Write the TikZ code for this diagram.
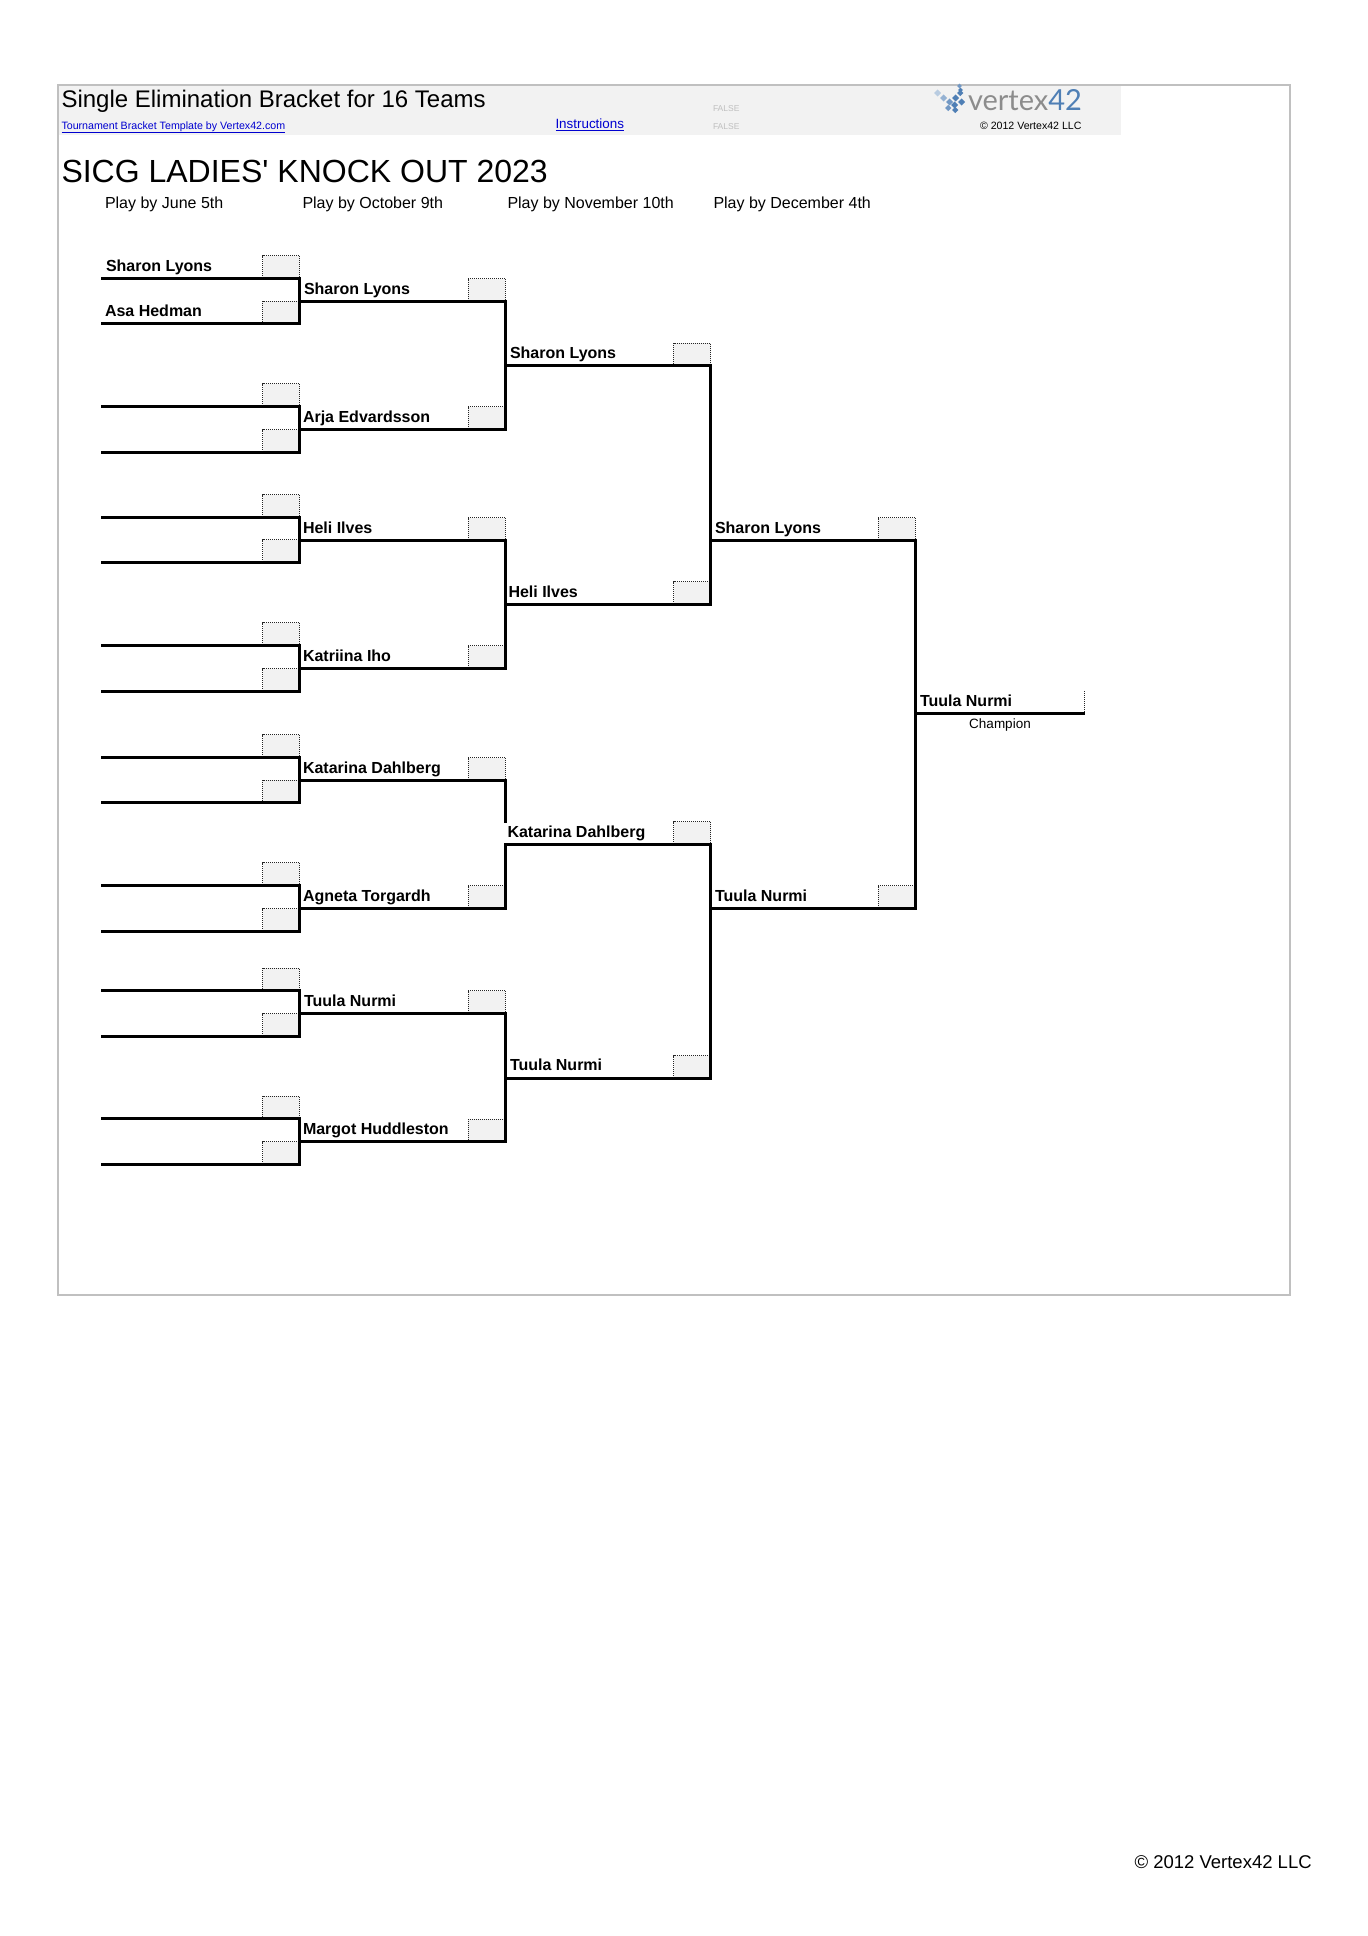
\documentclass[tikz,border=0pt]{standalone}
\usepackage{fontspec}
\setmainfont{Liberation Sans}
\newfontfamily\plainfont{Liberation Sans}
\newfontfamily\logofont{Lato}
\usetikzlibrary{calc}
\definecolor{framegray}{HTML}{C0C0C0}
\definecolor{headgray}{HTML}{F2F2F2}
\definecolor{linkblue}{HTML}{0000D0}
\definecolor{logoblue}{HTML}{4F7FB5}
\tikzset{
  txt/.style={anchor=base west, inner sep=0pt, outer sep=0pt},
  teamname/.style={txt, font=\fontsize{16}{18}\selectfont\bfseries},
  playby/.style={txt, font=\fontsize{16}{18}\selectfont},
  scorebox/.style={draw=black!85, densely dotted, line width=1pt, fill=headgray, anchor=south east,
    minimum width=37pt, minimum height=22.5pt, inner sep=0pt, outer sep=0pt},
  bline/.style={line width=3pt, line cap=rect},
  falsetxt/.style={txt, text=black!25, font=\fontsize{8.5}{10}\selectfont},
}
\begin{document}
\begin{tikzpicture}[x=1pt, y=-1pt]
  \useasboundingbox (0,0) rectangle (1368,1936);
  \fill[white] (0,0) rectangle (1368,1936);

  % ---------- Header ----------
  \fill[headgray] (58,85) rectangle (1121,135);
  \draw[framegray, line width=2pt] (57.5,84.5) rectangle (1290,1295);

  \node[txt, font=\fontsize{24}{28}\selectfont] (headline) at (61.5,107) {Single Elimination Bracket for 16 Teams};
  \node[txt, text=linkblue, font=\fontsize{10.65}{13}\selectfont] (templink) at (61.5,129) {\underline{Tournament Bracket Template by Vertex42.com}};
  \node[txt, text=linkblue, font=\fontsize{13.4}{15}\selectfont] (instr) at (555.5,128.5) {\underline{Instructions}};
  \node[falsetxt] (false1) at (713,111) {FALSE};
  \node[falsetxt] (false2) at (713,129) {FALSE};
  \node[txt, font=\fontsize{10.6}{13}\selectfont] (headcopy) at (980,129.5) {© 2012 Vertex42 LLC};

  % Logo
  \foreach \p/\q/\s/\c in {934/93/5/40,940/98/5/60,946/102/5/80,952/98/5/100,957/93/4.5/100,957/86/3.5/80,958/90/3.5/100,
      951/105/5/100,958/102/5/100,945/108/4.5/80,952/110/4.5/100}
    \fill[logoblue!\c, shift={(\p,\q)}, rotate=45] (0,0) rectangle (\s,\s);
  \node[txt, text=black!45, font=\logofont\fontsize{29}{32}\selectfont] (logoa) at (968,110) {vertex};
  \node[txt, text=logoblue, font=\logofont\fontsize{29}{32}\selectfont] (logob) at (logoa.base east) {42};

  % ---------- Titles ----------
  \node[txt, font=\plainfont\fontsize{32}{36}\selectfont] (title) at (61.5,182) {SICG LADIES' KNOCK OUT 2023};
  \foreach \x/\t [count=\n] in {105/Play by June 5th, 302.5/Play by October 9th, 507.5/Play by November 10th, 713.5/Play by December 4th}
    \node[playby] (play\n) at (\x,208) {\t};

  % ---------- Round 1 ----------
  \foreach \y [count=\n] in {278,323.5,406,452,517,562,645,691,757,802.5,885,931,990.5,1036,1118.5,1164} {
    \node[scorebox] (sa\n) at (299.5,\y) {};
    \coordinate (la\n) at (102,\y);
    \draw[bline] (la\n) -- (sa\n.south east);
  }
  \foreach \p/\q in {1/2,3/4,5/6,7/8,9/10,11/12,13/14,15/16}
    \draw[bline] (sa\p.south east) -- (sa\q.south east);

  % ---------- Round 2 ----------
  \foreach \y/\p [count=\n] in {301/1,429/3,540/5,668/7,780/9,908/11,1013/13,1141.5/15} {
    \node[scorebox] (sb\n) at (505,\y) {};
    \draw[bline] (sa\p.south east |- sb\n.south east) -- (sb\n.south east);
  }
  \coordinate (gap) at (505,821);
  \foreach \p/\q in {1/2,3/4,7/8}
    \draw[bline] (sb\p.south east) -- (sb\q.south east);
  \draw[bline] (sb5.south east) -- (gap);

  % ---------- Round 3 ----------
  \foreach \y/\p [count=\n] in {365.5/1,604/3,844/5,1078/7} {
    \node[scorebox] (sc\n) at (710.5,\y) {};
    \draw[bline] (sb\p.south east |- sc\n.south east) -- (sc\n.south east);
  }
  \draw[bline] (sb5.south east |- sc3.south east) -- (sb6.south east);
  \draw[bline] (sc1.south east) -- (sc2.south east);
  \draw[bline] (sc3.south east) -- (sc4.south east);

  % ---------- Round 4 and final ----------
  \node[scorebox] (sd1) at (915,540) {};
  \node[scorebox] (sd2) at (915,908) {};
  \draw[bline] (sc1.south east |- sd1.south east) -- (sd1.south east);
  \draw[bline] (sc3.south east |- sd2.south east) -- (sd2.south east);
  \draw[bline] (sd1.south east) -- (sd2.south east);

  \coordinate (finend) at (1083,713.5);
  \coordinate (fintop) at (1084,691);
  \draw[black!85, densely dotted, line width=1pt] (fintop) -- (fintop |- finend);
  \draw[bline] (sd1.south east |- finend) -- (finend);

  % ---------- Names ----------
  \foreach \x/\y/\t [count=\n] in {
    106/271/Sharon Lyons, 105/316.5/Asa Hedman,
    304/294/Sharon Lyons, 303/422/Arja Edvardsson, 303/533/Heli Ilves, 303/661/Katriina Iho,
    303/773/Katarina Dahlberg, 303/901/Agneta Torgardh, 304/1006/Tuula Nurmi, 303/1134.5/Margot Huddleston,
    510/358.5/Sharon Lyons, 508.5/597/Heli Ilves, 507.5/837/Katarina Dahlberg, 510/1070.5/Tuula Nurmi,
    715/533/Sharon Lyons, 715/901/Tuula Nurmi, 920/706.5/Tuula Nurmi}
    \node[teamname] (name\n) at (\x,\y) {\t};
  \node[txt, anchor=base, font=\fontsize{13.5}{15}\selectfont] (champ) at (1000,728.5) {Champion};

  % ---------- Footer ----------
  \node[txt, font=\fontsize{18.5}{21}\selectfont] (footcopy) at (1134.5,1868) {© 2012 Vertex42 LLC};

\end{tikzpicture}
\end{document}
